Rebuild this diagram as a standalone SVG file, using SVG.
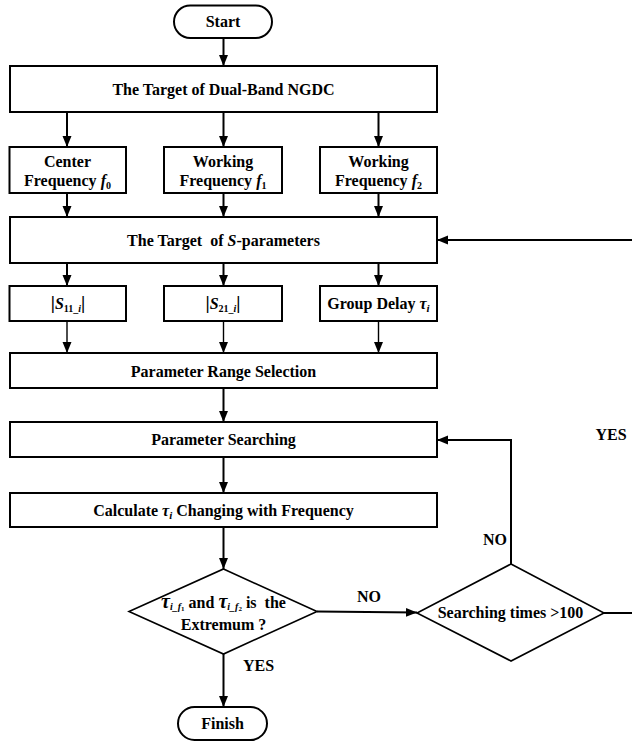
<svg xmlns="http://www.w3.org/2000/svg" width="632" height="743" viewBox="0 0 632 743">
<style>
  .box { fill: #ffffff; stroke: #000000; stroke-width: 2; }
  .dia { fill: #ffffff; stroke: #000000; stroke-width: 1.6; }
  .t { font-family: "Liberation Serif", "Times New Roman", serif; font-weight: bold; font-size: 16px; fill: #000000; text-anchor: middle; white-space: pre; }
  .it { font-style: italic; }
  .ln { fill: none; stroke: #000000; stroke-width: 2; }
  .thin { fill: none; stroke: #000000; stroke-width: 1.4; }
</style>
<defs>
  <marker id="ah" markerUnits="userSpaceOnUse" markerWidth="12" markerHeight="10" refX="11" refY="5" orient="auto">
    <path d="M0,0.5 L11,5 L0,9.5 z" fill="#000000"/>
  </marker>
</defs>
<rect width="632" height="743" fill="#ffffff"/>

<g id="connectors">
  <line class="ln" x1="223.5" y1="38" x2="223.5" y2="66" marker-end="url(#ah)"/>
  <line class="ln" x1="67" y1="112" x2="67" y2="147" marker-end="url(#ah)"/>
  <line class="ln" x1="223.5" y1="112" x2="223.5" y2="147" marker-end="url(#ah)"/>
  <line class="ln" x1="378.5" y1="112" x2="378.5" y2="147" marker-end="url(#ah)"/>
  <line class="ln" x1="67" y1="193" x2="67" y2="217" marker-end="url(#ah)"/>
  <line class="ln" x1="223.5" y1="193" x2="223.5" y2="217" marker-end="url(#ah)"/>
  <line class="ln" x1="378.5" y1="193" x2="378.5" y2="217" marker-end="url(#ah)"/>
  <line class="ln" x1="67" y1="263" x2="67" y2="286" marker-end="url(#ah)"/>
  <line class="ln" x1="223.5" y1="263" x2="223.5" y2="286" marker-end="url(#ah)"/>
  <line class="ln" x1="378.5" y1="263" x2="378.5" y2="286" marker-end="url(#ah)"/>
  <line class="thin" x1="67" y1="321" x2="67" y2="353" marker-end="url(#ah)"/>
  <line class="thin" x1="223.5" y1="321" x2="223.5" y2="353" marker-end="url(#ah)"/>
  <line class="thin" x1="378.5" y1="321" x2="378.5" y2="353" marker-end="url(#ah)"/>
  <line class="ln" x1="223.5" y1="388" x2="223.5" y2="422" marker-end="url(#ah)"/>
  <line class="ln" x1="223.5" y1="457" x2="223.5" y2="493" marker-end="url(#ah)"/>
  <line class="ln" x1="223.5" y1="527" x2="223.5" y2="569" marker-end="url(#ah)"/>
  <line class="ln" x1="223.5" y1="654" x2="223.5" y2="707" marker-end="url(#ah)"/>
  <line class="ln" x1="317" y1="611.5" x2="417" y2="612.5" marker-end="url(#ah)"/>
  <polyline class="ln" points="511,564 511,440 437,440" marker-end="url(#ah)"/>
  <line class="ln" x1="604" y1="613" x2="632" y2="613"/>
  <line class="ln" x1="632" y1="240" x2="437" y2="240" marker-end="url(#ah)"/>
  <text class="t" x="369" y="602">NO</text>
  <text class="t" x="495" y="545">NO</text>
  <text class="t" x="611" y="440">YES</text>
  <text class="t" x="258.5" y="671">YES</text>
</g>

<g id="start">
  <rect class="box" x="174" y="5.5" width="98" height="32.5" rx="16.25"/>
  <text class="t" x="223" y="27">Start</text>
</g>

<g id="target-ngdc">
  <rect class="box" x="10" y="66" width="427" height="46"/>
  <text class="t" x="223.5" y="95">The Target of Dual-Band NGDC</text>
</g>

<g id="center-freq">
  <rect class="box" x="9.5" y="147" width="116.5" height="46"/>
  <text class="t" x="67.5" y="166.5">Center</text>
  <text class="t" x="67.5" y="185.5">Frequency <tspan class="it">f</tspan><tspan font-size="10" dy="3">0</tspan></text>
</g>

<g id="working-freq-1">
  <rect class="box" x="164" y="147" width="118" height="46"/>
  <text class="t" x="223" y="166.5">Working</text>
  <text class="t" x="223" y="185.5">Frequency <tspan class="it">f</tspan><tspan font-size="10" dy="3">1</tspan></text>
</g>

<g id="working-freq-2">
  <rect class="box" x="320" y="147" width="117" height="46"/>
  <text class="t" x="378.5" y="166.5">Working</text>
  <text class="t" x="378.5" y="185.5">Frequency <tspan class="it">f</tspan><tspan font-size="10" dy="3">2</tspan></text>
</g>

<g id="target-s">
  <rect class="box" x="10" y="217" width="427" height="46"/>
  <text class="t" x="223.5" y="246">The Target  of <tspan class="it">S</tspan>-parameters</text>
</g>

<g id="s11">
  <rect class="box" x="9.5" y="286" width="116.5" height="35"/>
  <text class="t" x="68" y="309"><tspan font-size="19">|</tspan><tspan class="it">S</tspan><tspan font-size="10" dy="3">11_</tspan><tspan font-size="10" class="it">i</tspan><tspan font-size="19" dy="-3">|</tspan></text>
</g>

<g id="s21">
  <rect class="box" x="164" y="286" width="118" height="35"/>
  <text class="t" x="223" y="309"><tspan font-size="19">|</tspan><tspan class="it">S</tspan><tspan font-size="10" dy="3">21_</tspan><tspan font-size="10" class="it">i</tspan><tspan font-size="19" dy="-3">|</tspan></text>
</g>

<g id="group-delay">
  <rect class="box" x="320" y="286" width="117" height="35"/>
  <text class="t" x="378.5" y="309">Group Delay <tspan class="it">τ</tspan><tspan class="it" font-size="11" dy="3">i</tspan></text>
</g>

<g id="range-selection">
  <rect class="box" x="10" y="353" width="427" height="35"/>
  <text class="t" x="223.5" y="377">Parameter Range Selection</text>
</g>

<g id="param-searching">
  <rect class="box" x="10" y="422" width="427" height="35"/>
  <text class="t" x="223.5" y="445">Parameter Searching</text>
</g>

<g id="calculate">
  <rect class="box" x="10" y="493" width="427" height="34"/>
  <text class="t" x="223.5" y="516">Calculate <tspan class="it">τ</tspan><tspan class="it" font-size="11" dy="3">i</tspan><tspan dy="-3"> Changing with Frequency</tspan></text>
</g>

<g id="extremum">
  <polygon class="dia" points="223.5,569 317,611.5 223.5,654 129,611.5"/>
  <text class="t" x="223.5" y="608"><tspan class="it" font-size="20">τ</tspan><tspan class="it" font-size="10" dy="2">i_f</tspan><tspan font-size="7" dy="1">1</tspan><tspan dy="-3"> and </tspan><tspan class="it" font-size="20">τ</tspan><tspan class="it" font-size="10" dy="2">i_f</tspan><tspan font-size="7" dy="1">2</tspan><tspan dy="-3"> is  the</tspan></text>
  <text class="t" x="223.5" y="630">Extremum ?</text>
</g>

<g id="searching-times">
  <polygon class="dia" points="511,564 604,613 511,661 417,613"/>
  <text class="t" x="510.5" y="618">Searching times &gt;100</text>
</g>

<g id="finish">
  <rect class="box" x="178" y="707" width="89" height="33" rx="16.5"/>
  <text class="t" x="222.5" y="729">Finish</text>
</g>
</svg>
